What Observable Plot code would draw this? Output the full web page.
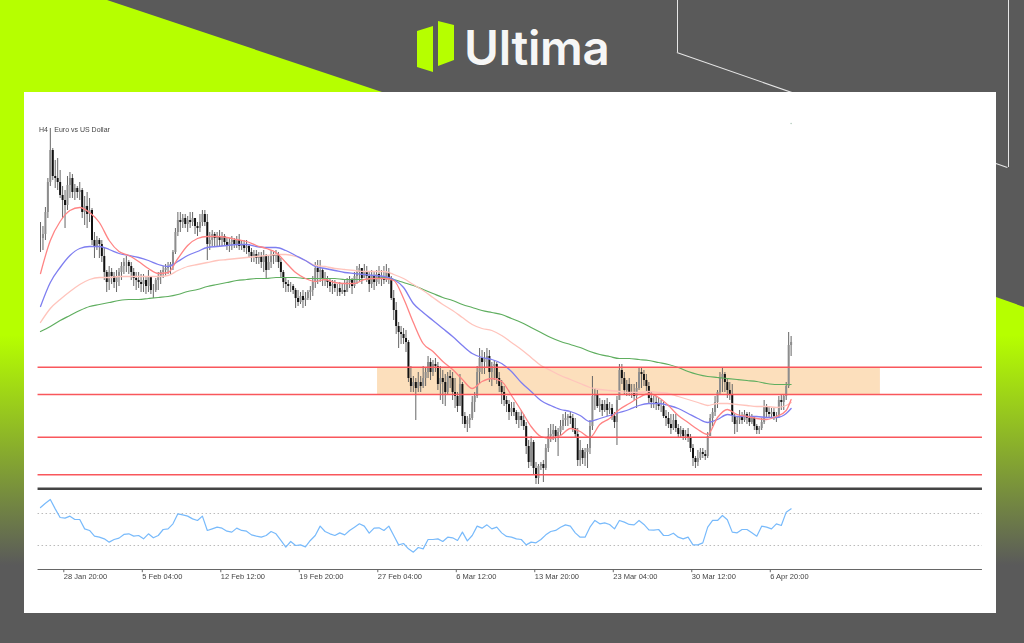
<!DOCTYPE html>
<html lang="en">
<head>
<meta charset="utf-8">
<title>Euro vs US Dollar</title>
<script src="https://cdn.jsdelivr.net/npm/d3@7"></script>
<script src="https://cdn.jsdelivr.net/npm/@observablehq/plot@0.6"></script>
<style>
html,body{margin:0;padding:0;background:#5a5a5a;width:1024px;height:643px;overflow:hidden;font-family:Inter,Roboto,sans-serif}
.abs{position:absolute}
#limeL,#limeR{left:0;top:0;width:1024px;height:643px;background:linear-gradient(180deg,#b6ff00 0,#b6ff00 335px,#5a5a5a 565px)}
#limeL{clip-path:polygon(0 0,107px 0,382px 92px,24px 92px,24px 613px,0 613px)}
#limeR{clip-path:polygon(996px 297px,1024px 307px,1024px 613px,996px 613px)}
#panel{left:24px;top:92px;width:972px;height:521px;background:#fff}
#mark1,#mark2{background:#b6ff00}
#mark1{left:417px;top:26px;width:16px;height:46px;clip-path:polygon(0 5px,16px 0,16px 46px,0 41px)}
#mark2{left:438px;top:21px;width:16px;height:45px;clip-path:polygon(0 0,16px 4px,16px 39px,0 45px)}
#word{left:464px;top:20px;color:#f6f6f6;font:600 47.5px/56px Inter,Roboto,sans-serif;letter-spacing:-.3px}
#main,#osc{position:absolute;left:24px;filter:blur(.5px)}
#main{top:92px}
#osc{top:489px}
#main svg,#osc svg{display:block;background:transparent}
</style>
</head>
<body>
<div class="abs" id="limeL"></div>
<div class="abs" id="limeR"></div>
<div class="abs" id="line1" style="left:677px;top:0;width:1px;height:52px;background:#e6e6e6"></div>
<div class="abs" id="line2" style="left:1008px;top:0;width:1px;height:167px;background:#e6e6e6"></div>
<div class="abs" id="line3" style="left:677px;top:52px;width:350px;height:1px;background:#e6e6e6;transform-origin:0 0;transform:rotate(19.2deg)"></div>
<div class="abs" id="panel"></div>
<div class="abs" id="mark1"></div>
<div class="abs" id="mark2"></div>
<div class="abs" id="word">Ultima</div>
<div id="main"></div>
<div id="osc"></div>
<script>
// Price values in points above an arbitrary base, one entry per 4-hour bar
const highs = [
278,274,293,322,372,352,340,342,330,314,
310,324,328,326,316,314,318,312,304,308,
302,292,268,264,262,260,252,230,234,232,
228,230,232,238,242,244,240,238,232,228,
228,226,226,224,230,224,216,222,228,230,
234,236,238,238,250,272,288,288,286,286,
284,288,288,282,278,286,290,290,286,268,
270,268,268,270,268,266,262,262,264,262,
264,266,260,260,260,256,252,250,250,248,
248,250,246,244,250,248,250,248,242,230,
222,220,218,216,212,210,208,210,208,210,
214,224,238,240,240,232,228,224,222,220,
220,216,218,216,220,222,224,222,228,234,
236,232,236,234,228,230,228,230,234,230,
234,236,232,224,210,198,178,174,172,170,
160,134,124,122,128,124,134,132,144,142,
140,142,138,134,130,126,128,130,128,122,
108,126,118,88,84,86,104,108,134,152,
150,148,152,150,138,140,138,128,120,114,
104,100,98,98,90,88,90,86,78,60,
64,60,38,36,38,40,56,72,76,76,
74,72,80,86,88,86,88,86,82,72,
60,52,52,56,80,124,112,110,102,100,
100,102,98,96,88,104,136,136,128,120,
122,116,116,118,132,132,130,126,118,108,
104,104,102,100,98,90,88,86,86,86,
76,74,72,70,72,66,56,44,50,52,
52,50,68,86,92,104,110,128,132,128,
122,118,116,86,84,90,88,90,88,88,
86,84,76,74,82,100,96,94,92,92,
88,104,106,106,118,168,164];
const lows = [
248,250,260,282,314,320,312,310,302,282,
272,290,302,302,300,302,300,282,275,272,
278,255,242,250,242,238,220,208,210,216,
212,208,214,220,226,228,226,220,214,210,
212,208,208,206,208,206,202,208,210,216,
222,224,226,226,230,246,264,268,272,272,
268,272,274,266,264,268,274,274,240,250,
254,254,254,254,254,254,250,248,250,252,
252,250,250,248,246,242,238,238,236,236,
232,228,222,230,232,236,238,232,222,212,
208,208,208,206,192,194,196,192,194,200,
200,204,212,216,218,214,214,212,208,206,
208,204,204,206,204,210,212,206,212,216,
218,216,222,218,208,212,210,214,216,214,
216,218,216,200,180,166,152,156,156,148,
118,108,108,80,108,108,112,114,122,120,
124,128,110,100,96,94,106,112,100,92,
88,96,76,72,68,72,80,88,102,116,
126,126,132,118,114,120,116,108,96,94,
88,80,84,84,76,72,74,70,46,32,
34,26,16,16,30,18,30,48,58,60,
58,44,64,70,74,74,76,68,62,34,
34,36,34,32,46,70,90,92,88,84,
88,84,86,80,72,55,100,116,106,104,
104,102,100,92,110,112,114,108,96,92,
92,90,90,88,82,74,72,66,70,68,
62,62,60,60,58,48,34,32,34,40,
42,40,42,64,74,84,92,106,108,108,
102,100,78,66,68,76,76,78,76,74,
76,70,66,66,70,76,82,82,82,80,
78,82,90,90,100,112,144];
const closes = [
262,266,288,318,350,324,322,318,305,300,
295,315,322,308,312,308,310,288,294,286,
290,260,254,260,256,244,228,218,228,224,
218,224,228,234,238,238,234,228,222,220,
218,216,220,214,224,210,210,220,224,228,
230,232,234,236,248,268,280,278,282,276,
280,278,282,274,272,278,286,278,256,260,
266,262,264,260,264,258,254,258,260,256,
260,254,256,252,254,248,244,246,242,244,
238,244,230,238,246,244,246,238,228,218,
216,214,214,210,202,198,204,200,202,208,
210,218,232,228,230,222,220,218,214,216,
212,212,208,210,208,218,220,214,224,228,
232,222,228,224,216,224,218,226,222,224,
220,228,222,202,190,174,168,166,162,158,
122,114,118,112,118,114,122,128,138,128,
136,134,116,122,118,108,124,122,108,104,
94,116,84,76,80,82,98,104,128,142,
138,142,144,128,134,136,122,114,108,100,
96,88,92,88,80,84,80,74,54,38,
58,32,22,34,36,32,52,64,66,70,
64,68,74,80,82,84,82,72,66,40,
50,42,48,52,74,104,106,94,96,90,
96,90,92,84,78,100,130,122,110,116,
108,108,104,112,128,126,120,114,102,98,
98,96,94,94,84,82,76,72,80,72,
66,70,64,66,62,52,42,38,42,48,
46,44,64,82,88,98,108,122,126,118,
110,106,84,76,80,84,80,86,82,78,
82,74,70,72,78,94,88,86,88,84,
84,100,98,104,114,155,158];

// Moving averages, read every fourth bar (last sample at bar 306)
const maBars = [0,4,8,12,16,20,24,28,32,36,40,44,48,52,56,60,64,68,72,76,80,84,88,92,96,100,104,108,112,116,120,124,128,132,136,140,144,148,152,156,160,164,168,172,176,180,184,188,192,196,200,204,208,212,216,220,224,228,232,236,240,244,248,252,256,260,264,268,272,276,280,284,288,292,296,300,304,306];
const maFast = [227,260,279,290,293,288,278,260,249,245,239,232,227,228,242,255,262,264,264,263,261,259,255,252,248,238,228,222,219,221,218,217,217,221,222,222,220,202,178,157,149,139,131,121,112,119,122,119,105,90,74,64,62,65,72,69,63,76,82,91,97,103,107,103,95,85,78,71,66,83,91,86,84,82,81,84,90,101];
const maMid = [194,218,233,245,252,254,254,251,247,245,243,240,236,234,239,245,249,253,254,255,256,256,254,253,253,250,245,240,234,232,230,228,227,226,225,224,221,213,197,188,180,172,164,155,147,143,141,137,129,118,109,100,95,91,89,85,79,82,85,88,91,95,97,97,95,92,87,82,78,81,86,84,84,84,83,83,87,92];
const maSlow = [178,192,201,209,216,221,223,223,224,224,224,224,224,225,230,234,236,238,240,241,242,243,244,245,246,246,244,240,235,234,232,231,230,229,229,229,226,222,216,210,203,196,190,183,176,172,170,165,158,151,143,135,130,125,121,117,113,111,110,109,108,108,109,108,107,104,101,98,95,97,97,96,95,94,94,93,95,98];
const maLong = [169,174,180,185,190,194,196,198,200,201,201,202,203,204,206,209,211,214,216,218,220,221,222,222,223,223,223,222,222,222,222,221,221,221,222,223,221,218,215,211,207,203,200,196,193,190,188,186,182,178,173,168,163,159,156,153,149,146,144,142,142,141,140,138,136,133,129,126,124,123,122,121,120,119,117,116,116,116];

// Oscillator (0–100), read every second bar
const oscValues = [
77.5,82.9,87.5,75.8,65,64.2,66.7,62.5,62.5,50.8,
48.8,41.7,40.4,38.3,34.2,37.5,39.2,43.8,44.6,41.7,
42.5,38.3,44.6,39.6,42.5,50,50.8,57.1,69.6,68.3,
66.7,63.3,61.3,66.7,48.8,50.8,52.9,51.7,47.9,46.7,
51.7,48.8,47.9,43.3,41.7,40.4,42.5,47.5,44.6,36.3,
27.9,35,30,30.8,28.3,36.3,42.5,54.2,47.5,44.6,
42.5,45.8,43.3,48.8,52.9,57.1,54.2,45.4,51.7,52.1,
48.8,54.2,42.5,30.8,32.5,25.8,21.7,27.5,25.8,
37.5,37.5,38.3,35,40.4,39.6,36.3,46.7,35.8,42.5,
54.2,51.7,55.8,50.8,52.9,45.8,41.3,40.4,38.3,37.5,
30.8,34.2,33.3,37.5,43.3,47.5,48.8,52.9,55.8,54.2,
45.8,40.4,40.4,52.9,61.3,57.1,58.3,56.3,50.8,61.3,
59.2,56.3,55.8,61.3,56.3,49.6,49.2,50,42.5,42.5,
45.4,40.4,38.3,40.4,30.8,30.8,33.3,52.9,61.3,61.3,
67.5,62.1,46.7,45.8,50,50,45.8,41.7,54.2,52.9,
50.8,57.1,55,71.7,75.8];
const oscLevels = [70, 30];

const levels = [133.3, 106, 63.3, 25.7];
const zoneBand = {x1: 137.4, x2: 342.4, y1: 106, y2: 133};
const separator = 11.7;
const firstSlot = -1, lastSlot = 384;

const tickBars = [9.5,41.5,73.5,105.5,137.5,169.5,201.5,233.5,265.5,297.5];
const tickLabels = ["28 Jan 20:00","5 Feb 04:00","12 Feb 12:00","19 Feb 20:00","27 Feb 04:00","6 Mar 12:00","13 Mar 20:00","23 Mar 04:00","30 Mar 12:00","6 Apr 20:00"];
const chartTitle = "Euro vs US Dollar";
const periodLabel = "H4";

const bars = closes.map((c, i) => ({i, open: i ? closes[i - 1] : c, close: c, high: highs[i], low: lows[i]}));
const upBars = bars.filter(d => d.close >= d.open);
const downBars = bars.filter(d => d.close < d.open);
const maRows = vals => vals.map((v, k) => ({i: maBars[k], v}));
const oscRows = oscValues.map((v, k) => ({i: k * 2, v}));
const tickRows = tickBars.map((i, k) => ({i, label: tickLabels[k]}));

const xScale = {domain: [firstSlot, lastSlot], range: [13.55, 957.95]};
const fontStyle = {fontFamily: "'Liberation Sans',Arial,sans-serif", color: "#444", background: "transparent"};

document.getElementById("main").append(Plot.plot({
  width: 972, height: 398,
  marginTop: 0, marginRight: 0, marginBottom: 0, marginLeft: 0,
  style: fontStyle,
  x: {...xScale, axis: null},
  y: {domain: [10, 408], range: [398, 0], axis: null},
  marks: [
    Plot.rectY([zoneBand], {x1: "x1", x2: "x2", y1: "y1", y2: "y2", fill: "#fcdfbc"}),
    Plot.ruleX(bars, {x: "i", y1: "low", y2: "high", stroke: "#666", strokeWidth: 1}),
    Plot.ruleX(upBars, {x: "i", y1: "open", y2: "close", stroke: "#8d8d8d", strokeWidth: 2}),
    Plot.ruleX(downBars, {x: "i", y1: "open", y2: "close", stroke: "#111", strokeWidth: 2}),
    Plot.lineY(maRows(maLong), {x: "i", y: "v", stroke: "#5fae5f", strokeWidth: 1.2, curve: "monotone-x"}),
    Plot.lineY(maRows(maSlow), {x: "i", y: "v", stroke: "#ffc4bc", strokeWidth: 1.3, curve: "monotone-x"}),
    Plot.lineY(maRows(maMid), {x: "i", y: "v", stroke: "#7e7ef0", strokeWidth: 1.3, curve: "monotone-x"}),
    Plot.lineY(maRows(maFast), {x: "i", y: "v", stroke: "#ff8484", strokeWidth: 1.3, curve: "monotone-x"}),
    Plot.ruleY(levels, {x1: firstSlot, x2: lastSlot, stroke: "#f9575c", strokeWidth: 1.4}),
    Plot.ruleY([separator], {x1: firstSlot, x2: lastSlot, stroke: "#444", strokeWidth: 2.4}),
    Plot.text([periodLabel], {x: -0.6, y: 371, text: d => d, textAnchor: "start", fontSize: 7, fill: "#444"}),
    Plot.text([chartTitle], {x: 5.6, y: 371, text: d => d, textAnchor: "start", fontSize: 7, fill: "#444"}),
    Plot.dot([{i: 306, v: 377}], {x: "i", y: "v", r: 0.7, fill: "#a9c4b4"})
  ]
}));

document.getElementById("osc").append(Plot.plot({
  width: 972, height: 124,
  marginTop: 0, marginRight: 0, marginBottom: 44, marginLeft: 0,
  style: fontStyle,
  x: {...xScale, axis: null},
  y: {domain: [0, 100], axis: null},
  marks: [
    Plot.ruleY(oscLevels, {x1: firstSlot, x2: lastSlot, stroke: "#bbb", strokeWidth: 1, strokeDasharray: "1.5,2.5"}),
    Plot.lineY(oscRows, {x: "i", y: "v", stroke: "#78bafb", strokeWidth: 1.2}),
    Plot.ruleY([0], {x1: firstSlot, x2: lastSlot, stroke: "#666", strokeWidth: 1}),
    Plot.ruleX(tickRows, {x: "i", y1: 0, y2: -4, stroke: "#666"}),
    Plot.text(tickRows, {x: "i", y: -8.8, text: "label", textAnchor: "start", fontSize: 7.5, fill: "#444"})
  ]
}));
</script>
</body>
</html>
